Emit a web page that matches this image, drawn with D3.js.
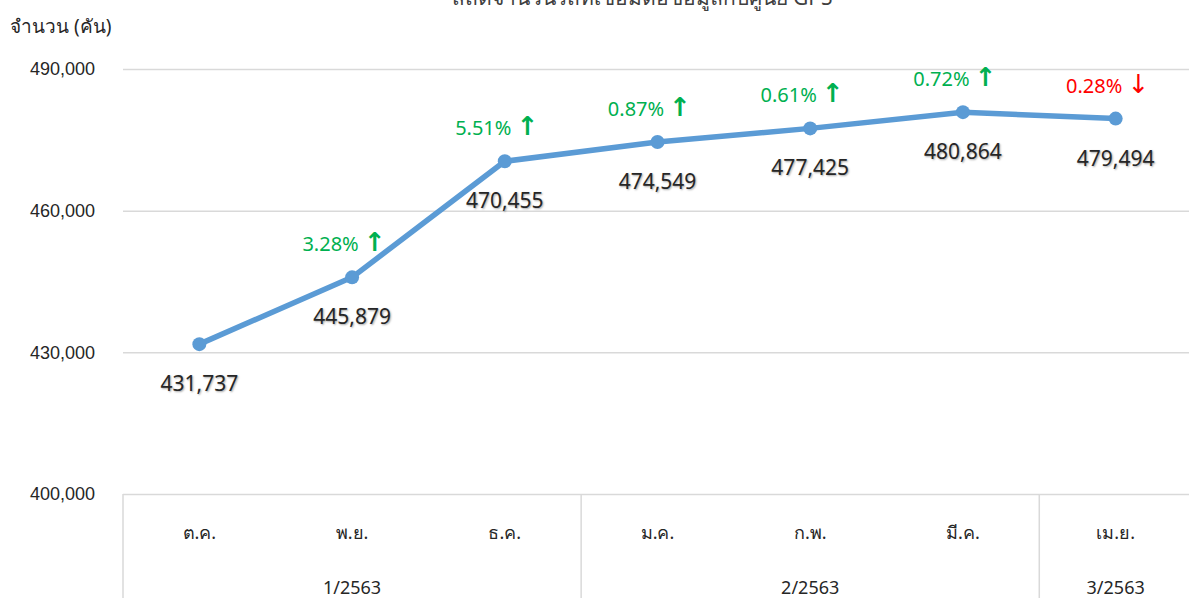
<!DOCTYPE html>
<html>
<head>
<meta charset="utf-8">
<script src="https://cdn.jsdelivr.net/npm/d3@7"></script>
<style>
  body { margin: 0; background: #fff; }
  svg { display: block; font-family: Tahoma, "Noto Sans", "DejaVu Sans", sans-serif; }
  .val { text-shadow: 1px 1px 2px rgba(0,0,0,0.35); }
</style>
</head>
<body>
<svg id="chart"></svg>
<script>
// data
const months = ["ต.ค.", "พ.ย.", "ธ.ค.", "ม.ค.", "ก.พ.", "มี.ค.", "เม.ย."];
const quarters = ["1/2563", "2/2563", "3/2563"];
const quarterSize = [3, 3, 1];
const values = [431737, 445879, 470455, 474549, 477425, 480864, 479494];
const pctLabels = [null, "3.28%", "5.51%", "0.87%", "0.61%", "0.72%", "0.28%"];
const pctUp = [null, true, true, true, true, true, false];
const yTicks = [400000, 430000, 460000, 490000];

const W = 1189, H = 598;
const MARGIN = { top: 69, bottom: 104, left: 123, right: -3 };

const $svg = d3.select('#chart').attr('width', W).attr('height', H);

const x = d3.scaleBand()
  .domain(months)
  .range([MARGIN.left, W - MARGIN.right]);

const y = d3.scaleLinear()
  .domain([400000, 490000])
  .range([H - MARGIN.bottom, MARGIN.top]);

// title (clipped at top like the original)
$svg.append('text')
  .attr('x', 642).attr('y', 5)
  .attr('text-anchor', 'middle')
  .attr('font-size', 21)
  .attr('fill', '#404040')
  .text('สถิติจำนวนรถที่เชื่อมต่อข้อมูลกับศูนย์ GPS');

// y axis label
$svg.append('text')
  .attr('x', 10).attr('y', 33)
  .attr('font-size', 19)
  .attr('fill', '#262626')
  .text('จำนวน (คัน)');

// gridlines + tick labels
$svg.append('g')
  .attr('class', 'y axis')
  .attr('transform', `translate(${MARGIN.left},0)`)
  .call(d3.axisRight(y)
    .tickValues(yTicks)
    .tickSize(W - MARGIN.left)
    .tickFormat(d3.format(',')))
  .call(g => g.select('.domain').remove())
  .call(g => g.selectAll('.tick line').attr('stroke', '#d9d9d9').attr('stroke-width', 1.5))
  .call(g => g.selectAll('.tick text')
    .attr('x', -28)
    .attr('text-anchor', 'end')
    .attr('font-size', 18)
    .attr('fill', '#262626'));

// category separators
const x0 = H - MARGIN.bottom;
let idx = 0;
const seps = [0];
quarterSize.forEach(n => { idx += n; seps.push(idx); });
seps.forEach(i => {
  if (i >= months.length) return;
  const px = x.range()[0] + i * x.step();
  $svg.append('line')
    .attr('x1', px).attr('x2', px)
    .attr('y1', x0).attr('y2', H)
    .attr('stroke', '#d9d9d9').attr('stroke-width', 1.5);
});

// month labels
$svg.append('g').selectAll('text')
  .data(months)
  .join('text')
  .attr('x', d => x(d) + x.bandwidth() / 2)
  .attr('y', x0 + 45)
  .attr('text-anchor', 'middle')
  .attr('font-size', 18)
  .attr('fill', '#262626')
  .text(d => d);

// quarter labels
let start = 0;
quarters.forEach((q, i) => {
  const a = x.range()[0] + start * x.step();
  const b = a + quarterSize[i] * x.step();
  $svg.append('text')
    .attr('x', (a + b) / 2)
    .attr('y', x0 + 100)
    .attr('text-anchor', 'middle')
    .attr('font-size', 18)
    .attr('fill', '#262626')
    .text(q);
  start += quarterSize[i];
});

// line
const cx = (d, i) => x(months[i]) + x.bandwidth() / 2;
const line = d3.line()
  .x((d, i) => cx(d, i))
  .y(d => y(d));

$svg.append('path')
  .datum(values)
  .attr('fill', 'none')
  .attr('stroke', '#5b9bd5')
  .attr('stroke-width', 5.5)
  .attr('stroke-linejoin', 'round')
  .attr('d', line);

$svg.append('g').selectAll('circle')
  .data(values)
  .join('circle')
  .attr('cx', cx)
  .attr('cy', d => y(d))
  .attr('r', 7)
  .attr('fill', '#5b9bd5');

// value labels
$svg.append('g').selectAll('text')
  .data(values)
  .join('text')
  .attr('class', 'val')
  .attr('x', cx)
  .attr('y', d => y(d) + 47)
  .attr('text-anchor', 'middle')
  .attr('font-size', 21)
  .attr('fill', '#262626')
  .text(d => d3.format(',')(d));

// percent change labels
const pg = $svg.append('g');
values.forEach((v, i) => {
  if (!pctLabels[i]) return;
  const col = pctUp[i] ? '#00b050' : '#ff0000';
  const t = pg.append('text')
    .attr('x', cx(v, i) - 8)
    .attr('y', y(v) - 26)
    .attr('text-anchor', 'middle')
    .attr('font-size', 20)
    .attr('fill', col);
  t.append('tspan').text(pctLabels[i] + ' ');
  t.append('tspan')
    .attr('font-size', 26)
    .attr('font-weight', pctUp[i] ? 'bold' : 'normal')
    .text(pctUp[i] ? '↑' : '↓');
});
</script>
</body>
</html>
